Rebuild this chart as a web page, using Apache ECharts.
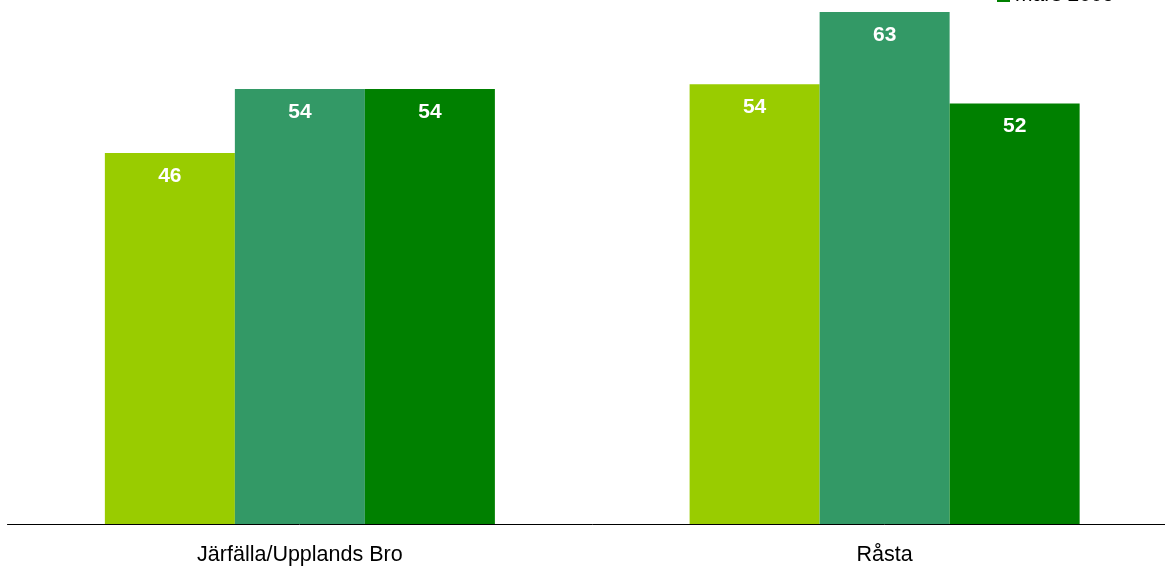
<!DOCTYPE html>
<html><head><meta charset="utf-8">
<script src="https://cdn.jsdelivr.net/npm/echarts@6/dist/echarts.min.js"></script>
<style>html,body{margin:0;padding:0;background:#fff;width:1165px;height:567px;overflow:hidden;position:relative}#c{position:absolute;left:0;top:-100px;width:1177px;height:667px}</style>
</head><body><div id="c"></div>
<script>
const categories = ['Järfälla/Upplands Bro', 'Råsta'];
const seriesNames = ['mars 2007', 'mars 2008', 'mars 2009'];
const valuesA = [45.8, 54.3];
const valuesB = [53.7, 63.2];
const valuesC = [53.7, 51.9];
const colors = ['#99CC00', '#339966', '#008000'];

const allValues = [valuesA, valuesB, valuesC];
const chart = echarts.init(document.getElementById('c'));
chart.setOption({
  animation: false,
  textStyle: { fontFamily: 'Liberation Sans, Arial, sans-serif' },
  legend: {
    orient: 'vertical', left: 992, top: 18, itemGap: 10,
    itemWidth: 13, itemHeight: 13, icon: 'rect',
    textStyle: { fontSize: 21, color: '#000' },
    data: seriesNames
  },
  grid: { left: 7.5, right: 0, top: 57, bottom: 43, containLabel: false },
  xAxis: {
    type: 'category', data: categories,
    axisLine: { lineStyle: { color: '#000', width: 1 } },
    axisTick: { show: false },
    axisLabel: { color: '#000', fontSize: 21.5, margin: 20 }
  },
  yAxis: { type: 'value', min: 0, max: 70, show: false, splitLine: { show: false } },
  series: seriesNames.map((n, i) => ({
    name: n, type: 'bar', data: allValues[i], barGap: 0, barCategoryGap: '33.3%',
    itemStyle: { color: colors[i] },
    label: {
      show: true, position: 'insideTop', distance: 12.5,
      color: '#fff', fontWeight: 'bold', fontSize: 21,
      formatter: p => Math.round(p.value)
    }
  }))
});
</script></body></html>
